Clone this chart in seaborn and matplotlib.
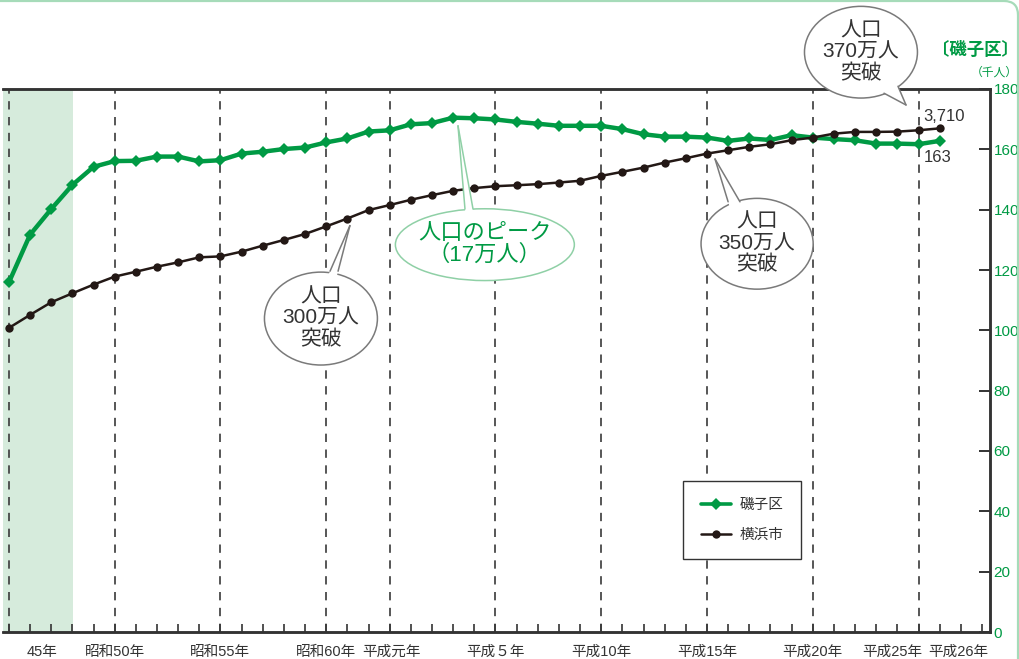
import matplotlib
matplotlib.use("Agg")
import matplotlib.pyplot as plt
import seaborn as sns
import pandas as pd
from matplotlib.patches import Ellipse, Polygon, FancyBboxPatch
from matplotlib.lines import Line2D
from matplotlib.transforms import IdentityTransform

# ---- data -------------------------------------------------------------
years = list(range(1970, 2015))

# 磯子区 population (thousand people)
isogo = [115.9, 131.7, 140.2, 148.2, 154.2, 156.1, 156.2, 157.6, 157.6, 156.0,
         156.4, 158.6, 159.2, 160.1, 160.6, 162.3, 163.6, 165.9, 166.3, 168.3,
         168.7, 170.5, 170.3, 169.9, 169.1, 168.5, 167.8, 167.8, 167.8, 166.7,
         165.0, 164.2, 164.2, 163.9, 162.8, 163.6, 163.1, 164.7, 163.9, 163.4,
         163.0, 161.9, 161.9, 161.7, 162.8]

# 横浜市 population (thousand people)
yokohama = [2240, 2336, 2429, 2495, 2559, 2618, 2654, 2691, 2723, 2760,
            2767, 2802, 2846, 2888, 2932, 2988, 3046, 3108, 3145, 3184,
            3218, 3250, 3270, 3284, 3291, 3299, 3311, 3324, 3360, 3390,
            3421, 3458, 3490, 3524, 3549, 3574, 3593, 3623, 3642, 3671,
            3684, 3684, 3686, 3696, 3710]

series_names = ["磯子区", "横浜市"]

# era gridlines and x labels
grid_years = [1970, 1975, 1980, 1985, 1988, 1993, 1998, 2003, 2008, 2013]
x_labels = ["45年", "昭和50年", "昭和55年", "昭和60年", "平成元年", "平成５年",
            "平成10年", "平成15年", "平成20年", "平成25年", "平成26年"]
x_label_pos = [1971.55, 1975, 1980, 1985, 1988.1, 1993, 1998, 2003, 2008,
               2011.75, 2014.9]

y_ticks = list(range(0, 181, 20))

df = pd.DataFrame({"year": years, "isogo": isogo, "yokohama": yokohama})

# ---- style ------------------------------------------------------------
sns.set_theme(style="white")
plt.rcParams["font.family"] = ["Noto Sans CJK JP", "DejaVu Sans"]

NUM_FONT = "Liberation Sans"
MIX = ["Liberation Sans", "Noto Sans CJK JP"]

GREEN = "#009a44"
GREEN_LIGHT = "#8fd0a6"
BLACK = "#231815"
DARK = "#333333"
GREY = "#7a7a7a"

fig = plt.figure(figsize=(10.2, 6.59), dpi=100)
ax = fig.add_axes([3 / 1020, 1 - 632 / 659, 987 / 1020, 543 / 659])
ax2 = ax.twinx()

# shaded early period
ax.axvspan(1969.72, 1973.03, color="#d6ebdc", lw=0, zorder=0)

# dashed era lines
for gy in grid_years:
    ax.axvline(gy, color="#3a3a3a", lw=1.2, dashes=(5, 4.5), zorder=1)

# ---- lines ------------------------------------------------------------
sns.lineplot(data=df, x="year", y="isogo", ax=ax, color=GREEN, lw=3.2,
             marker="D", markersize=6, markeredgewidth=0, zorder=5)
sns.lineplot(data=df, x="year", y="yokohama", ax=ax2, color=BLACK, lw=1.8,
             marker="o", markersize=6, markeredgewidth=0, zorder=5)

ax.set_xlim(1969.72, 2016.38)
ax.set_ylim(0, 180)
ax2.set_ylim(0, 4000)

ax.set_xlabel("")
ax.set_ylabel("")
ax2.set_ylabel("")

# axes decoration
for a in (ax, ax2):
    a.spines["left"].set_visible(False)
    for s in ("top", "bottom", "right"):
        a.spines[s].set_color(DARK)
        a.spines[s].set_linewidth(1.8)
ax2.set_yticks([])
ax2.tick_params(axis="y", which="both", right=False, labelright=False)

ax.yaxis.tick_right()
ax.set_yticks(y_ticks)
ax.set_yticklabels([str(v) for v in y_ticks], fontfamily=NUM_FONT,
                   fontsize=11, color=GREEN)
ax.tick_params(axis="y", direction="in", length=8, width=1.4, color=DARK,
               pad=2.5, right=True, left=False)

ax.set_xticks(list(range(1970, 2017)))
ax.set_xticklabels([])
ax.tick_params(axis="x", direction="in", length=6, width=1.2, color=DARK,
               bottom=True, top=False)
ax2.tick_params(axis="x", which="both", bottom=False, top=False)

for lbl, xp in zip(x_labels, x_label_pos):
    ax.text(xp, -0.036, lbl, transform=ax.get_xaxis_transform(),
            ha="center", va="center", fontsize=10.5, color=DARK,
            family=MIX)

# end value labels
ax2.annotate(f"{yokohama[-1]:,}", xy=(years[-1], yokohama[-1]),
             xytext=(-16, 12), textcoords="offset pixels", ha="left",
             va="center", fontsize=12, color=DARK, family="Liberation Sans")
ax.annotate(f"{isogo[-1]:.0f}", xy=(years[-1], isogo[-1]),
            xytext=(-16, -17), textcoords="offset pixels", ha="left",
            va="center", fontsize=12, color=DARK, family="Liberation Sans")

# ---- callouts ---------------------------------------------------------
def callout(center, w, h, base1, base2, apex, text, tcolor, ecolor,
            size=15, spacing=1.15):
    kw = dict(transform=ax.transData, clip_on=False)
    ax2.add_patch(Ellipse(center, w, h, facecolor="white", edgecolor=ecolor,
                          lw=1.1, zorder=10, **kw))

    def ext(b):
        return (apex[0] + 1.12 * (b[0] - apex[0]),
                apex[1] + 1.12 * (b[1] - apex[1]))

    ax2.add_patch(Polygon([apex, ext(base1), ext(base2)], closed=True,
                          facecolor="white", edgecolor="none", zorder=11, **kw))
    for b in (base1, base2):
        ax2.add_line(Line2D([apex[0], b[0]], [apex[1], b[1]], color=ecolor,
                            lw=1.1, zorder=12, **kw))
    ax2.text(center[0], center[1], text, ha="center", va="center",
             fontsize=size, color=tcolor, linespacing=spacing, family=MIX,
             zorder=13, **kw)


callout((1984.75, 103.9), 5.34, 30.8, (1985.18, 119.6), (1985.56, 119.6),
        (1986.12, 134.7), "人口\n300万人\n突破", DARK, GREY)
callout((1992.5, 128.4), 8.46, 23.8, (1991.56, 140.2), (1991.94, 140.2),
        (1991.23, 167.8), "人口のピーク\n（17万人）", GREEN, GREEN_LIGHT,
        size=16, spacing=1.02)
callout((2005.37, 128.7), 5.30, 30.1, (2004.0, 142.6), (2004.56, 142.6),
        (2003.38, 156.8), "人口\n350万人\n突破", DARK, GREY)
callout((2010.28, 192.2), 5.34, 30.4, (2011.37, 178.6), (2012.03, 180.9),
        (2012.41, 174.7), "人口\n370万人\n突破", DARK, GREY)

# ---- legend -----------------------------------------------------------
handles = [
    Line2D([], [], color=GREEN, lw=2.6, marker="D", markersize=6, markeredgewidth=0),
    Line2D([], [], color=BLACK, lw=1.8, marker="o", markersize=6, markeredgewidth=0),
]
leg = ax2.legend(handles, series_names, loc="lower left",
                 bbox_to_anchor=(0.689, 0.134), frameon=True, fancybox=False,
                 edgecolor=DARK, framealpha=1, fontsize=10.5, handlelength=2.1,
                 handletextpad=0.55, labelspacing=1.05, borderpad=1.2,
                 borderaxespad=0)
leg.get_frame().set_linewidth(1.0)
for t in leg.get_texts():
    t.set_color(DARK)
leg.set_zorder(20)

# ---- unit labels ------------------------------------------------------
fig.text(1019 / 1020, 1 - 50 / 659, "〔磯子区〕", ha="right", va="center",
         fontsize=12.5, fontweight="bold", color=GREEN)
fig.text(1018 / 1020, 1 - 72 / 659, "（千人）", ha="right", va="center",
         fontsize=8.5, color=GREEN)

# page border with a rounded corner
fig.patches.append(FancyBboxPatch((-30, -30), 1048, 688,
                                  boxstyle="round,pad=0,rounding_size=14",
                                  transform=IdentityTransform(), fill=False,
                                  edgecolor="#a6dbb9", lw=1.6))

fig.savefig("out.png", dpi=100)
